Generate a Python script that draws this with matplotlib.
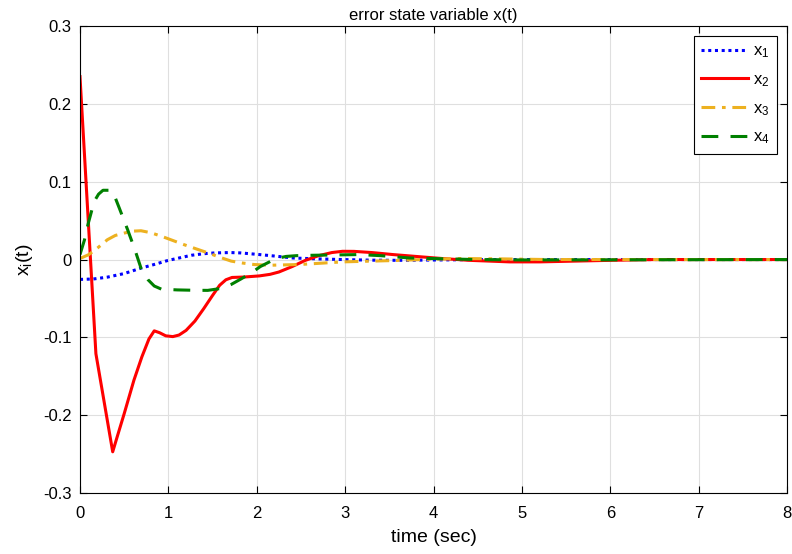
import matplotlib
matplotlib.use("Agg")
import matplotlib.pyplot as plt
import numpy as np
from matplotlib.ticker import FuncFormatter

plt.rcParams['font.family'] = ['Liberation Sans', 'DejaVu Sans']
plt.rcParams['mathtext.fontset'] = 'custom'
plt.rcParams['mathtext.rm'] = 'Liberation Sans'

# x1 (blue dotted)
t1 = [0, 0.15, 0.31, 0.5, 0.69, 0.85, 0.99, 1.12, 1.26, 1.4, 1.52, 1.7, 1.82, 2.03, 2.2, 2.41, 2.7, 2.97, 3.3, 3.6, 4.0, 4.5, 5.0, 8.0]
x1 = [-0.0255, -0.025, -0.0226, -0.018, -0.011, -0.006, -0.0013, 0.002, 0.0055, 0.0075, 0.0085, 0.009, 0.0085, 0.0064, 0.0045, 0.002, 0.0008, 0.0, -0.0008, -0.001, -0.0006, 0.0, 0.0, 0.0]

# x2 (red solid)
t2 = [0, 0.18, 0.37, 0.42, 0.5, 0.61, 0.7, 0.78, 0.84, 0.9, 0.97, 1.05, 1.12, 1.2, 1.3, 1.4, 1.5, 1.58, 1.65, 1.72, 1.85, 2.03, 2.15, 2.25, 2.4, 2.55, 2.7, 2.85, 2.97, 3.1, 3.3, 3.54, 3.8, 4.1, 4.4, 4.86, 5.2, 5.6, 6.0, 6.5, 8.0]
x2 = [0.235, -0.121, -0.247, -0.228, -0.198, -0.155, -0.125, -0.102, -0.0916, -0.094, -0.098, -0.099, -0.097, -0.091, -0.079, -0.063, -0.046, -0.033, -0.026, -0.023, -0.0225, -0.021, -0.019, -0.016, -0.009, -0.001, 0.005, 0.009, 0.0106, 0.0105, 0.009, 0.0064, 0.004, 0.0013, -0.001, -0.003, -0.003, -0.002, -0.001, 0.0, 0.0]

# x3 (orange dash-dot)
t3 = [0, 0.1, 0.2, 0.31, 0.4, 0.5, 0.6, 0.69, 0.8, 0.92, 1.05, 1.18, 1.32, 1.45, 1.58, 1.71, 1.84, 1.97, 2.15, 2.48, 2.97, 3.54, 4.0, 4.3, 4.8, 5.3, 8.0]
x3 = [0.0013, 0.0064, 0.015, 0.0255, 0.031, 0.034, 0.0365, 0.037, 0.0345, 0.030, 0.0245, 0.019, 0.0135, 0.0085, 0.003, -0.002, -0.0045, -0.0064, -0.0073, -0.0064, -0.003, -0.0013, 0.0005, 0.0013, 0.0008, 0.0, 0.0]

# x4 (green dashed)
t4 = [0, 0.05, 0.09, 0.16, 0.21, 0.26, 0.35, 0.4, 0.445, 0.54, 0.62, 0.69, 0.77, 0.84, 0.92, 1.1, 1.3, 1.445, 1.6, 1.71, 1.82, 1.94, 2.04, 2.16, 2.25, 2.33, 2.45, 2.63, 3.16, 3.4, 3.73, 4.1, 4.48, 5.0, 8.0]
x4 = [0.0064, 0.025, 0.045, 0.0745, 0.084, 0.089, 0.089, 0.079, 0.066, 0.038, 0.013, -0.011, -0.026, -0.034, -0.038, -0.039, -0.0395, -0.0396, -0.037, -0.032, -0.025, -0.017, -0.009, -0.002, 0.002, 0.004, 0.005, 0.0055, 0.0064, 0.005, 0.002, 0.001, 0.0, -0.0005, 0.0]

labels = [r'$\mathregular{x_1}$', r'$\mathregular{x_2}$', r'$\mathregular{x_3}$', r'$\mathregular{x_4}$']

fig = plt.figure(figsize=(7.92, 5.54), dpi=100)
ax = fig.add_axes([0.101, 0.110, 0.893, 0.843])

lw = 2.2
ax.plot(t1, x1, color=(0, 0, 1), linestyle=(0, (1, 1.2)), linewidth=lw, label=labels[0])
ax.plot(t2, x2, color=(1, 0, 0), linestyle='-', linewidth=lw, label=labels[1])
ax.plot(t3, x3, color=(0.929, 0.694, 0.125), linestyle=(0, (4.5, 2.2, 1.2, 2.2)), linewidth=lw, label=labels[2])
ax.plot(t4, x4, color=(0, 0.5, 0), linestyle=(0, (5.5, 4)), linewidth=lw, label=labels[3])

ax.set_xlim(0, 8)
ax.set_ylim(-0.3, 0.3)
ax.set_xticks(np.arange(0, 9, 1))
ax.set_yticks(np.round(np.arange(-0.3, 0.31, 0.1), 1))

def yfmt(v, pos):
    if abs(v) < 1e-9:
        return '0'
    return ('%.1f' % v)
ax.yaxis.set_major_formatter(FuncFormatter(yfmt))

ax.grid(True, color='#dfdfdf', linewidth=0.8)
ax.set_axisbelow(True)
ax.tick_params(direction='in', top=True, right=True, labelsize=12, length=5, width=0.8)
ax.tick_params(axis='x', pad=9)
ax.tick_params(axis='y', pad=6)
for s in ax.spines.values():
    s.set_linewidth(0.8)

ax.set_title('error state variable x(t)', fontsize=12, pad=4)
ax.set_xlabel('time (sec)', fontsize=14, labelpad=6)
ax.set_ylabel(r'$\mathregular{x_i(t)}$', fontsize=14, labelpad=6)

leg = ax.legend(loc='upper right', fontsize=12, frameon=True, fancybox=False,
                edgecolor='black', framealpha=1, handlelength=2.8, borderaxespad=0.6,
                labelspacing=0.72, handletextpad=0.3, borderpad=0.45)
leg.get_frame().set_linewidth(0.8)

fig.savefig('out.png', dpi=100)
